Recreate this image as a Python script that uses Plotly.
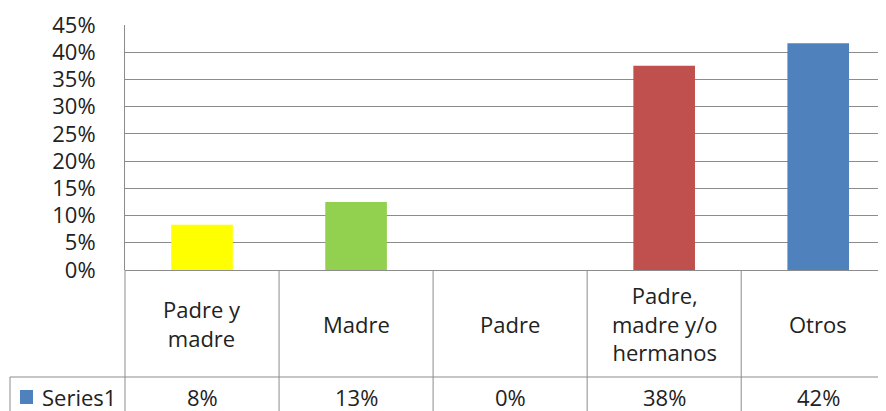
import math
import plotly.graph_objects as go

# ---- data ----
categories = ["Padre y<br>madre", "Madre", "Padre", "Padre,<br>madre y/o<br>hermanos", "Otros"]
values = [0.0833, 0.125, 0.0, 0.375, 0.4167]
bar_colors = ["#FFFF00", "#92D050", "#A5A5A5", "#C0504D", "#4F81BD"]
series_name = "Series1"
series_color = "#4F81BD"

# ---- layout geometry (screen pixels; page body has an 8px margin) ----
OFF = 8
W, H = 886 - OFF, 411 - OFF
L, R, T, B = 125, 886, 25, 270          # plot area on screen
ROW1_BOTTOM = 377
ROW2_BOTTOM = 420
LEGEND_LEFT = 10
XMIN, XMAX = -0.5, 4.44
FONT = "'Open Sans', Lato, sans-serif"
FS = 22
TXT = "#222222"
LINE = "#8c8c8c"

def px_x(p):
    return (p - L) / (R - L)

def px_y(p):
    return (B - p) / (B - T)

def data_x(v):
    return (v - XMIN) / (XMAX - XMIN)

fig = go.Figure()
fig.add_trace(go.Bar(
    x=list(range(len(categories))), y=values,
    marker=dict(color=bar_colors, line=dict(width=0)),
    width=0.4, showlegend=False, hoverinfo="skip",
))

shapes = []
shapes.append(dict(type="line", xref="paper", yref="paper",
                   x0=px_x(LEGEND_LEFT), x1=1, y0=px_y(ROW1_BOTTOM), y1=px_y(ROW1_BOTTOM),
                   line=dict(color=LINE, width=1)))
shapes.append(dict(type="line", xref="paper", yref="paper",
                   x0=px_x(LEGEND_LEFT), x1=px_x(LEGEND_LEFT), y0=px_y(ROW1_BOTTOM), y1=px_y(ROW2_BOTTOM),
                   line=dict(color=LINE, width=1)))
for i in range(len(categories)):
    xb = data_x(i - 0.5)
    if xb <= 1:
        shapes.append(dict(type="line", xref="paper", yref="paper",
                           x0=xb, x1=xb, y0=0, y1=px_y(ROW2_BOTTOM),
                           line=dict(color=LINE, width=1)))
shapes.append(dict(type="rect", xref="paper", yref="paper",
                   x0=px_x(20), x1=px_x(33), y0=px_y(390), y1=px_y(404),
                   fillcolor=series_color, line=dict(width=0)))

annotations = []
for i, c in enumerate(categories):
    annotations.append(dict(x=i, xref="x", y=px_y((B + ROW1_BOTTOM) / 2), yref="paper",
                            text=c, showarrow=False, xanchor="center", yanchor="middle",
                            font=dict(family=FONT, size=FS, color=TXT)))
    annotations.append(dict(x=i, xref="x", y=px_y(397), yref="paper",
                            text=f"{math.floor(values[i] * 100 + 0.5)}%", showarrow=False,
                            xanchor="center", yanchor="middle",
                            font=dict(family=FONT, size=FS, color=TXT)))
annotations.append(dict(x=px_x(40), xref="paper", y=px_y(397), yref="paper",
                        text=series_name, showarrow=False, xanchor="left", yanchor="middle",
                        font=dict(family=FONT, size=FS, color=TXT)))

fig.update_layout(
    width=W, height=H,
    margin=dict(l=L - OFF, r=886 - R, t=T - OFF, b=411 - B, pad=0),
    paper_bgcolor="white", plot_bgcolor="white",
    shapes=shapes, annotations=annotations,
    bargap=0.6,
    xaxis=dict(range=[XMIN, XMAX], showticklabels=False, showgrid=False,
               zeroline=False, showline=False, fixedrange=True),
    yaxis=dict(range=[0, 0.45], dtick=0.05, tick0=0, tickformat=".0%",
               showgrid=True, gridcolor=LINE, gridwidth=1,
               zeroline=True, zerolinecolor=LINE, zerolinewidth=1,
               showline=True, linecolor=LINE, linewidth=1,
               ticks="", ticklabelstandoff=24,
               tickfont=dict(family=FONT, size=FS, color=TXT), fixedrange=True),
    font=dict(family=FONT, color=TXT),
)

fig.write_html("out.html")
